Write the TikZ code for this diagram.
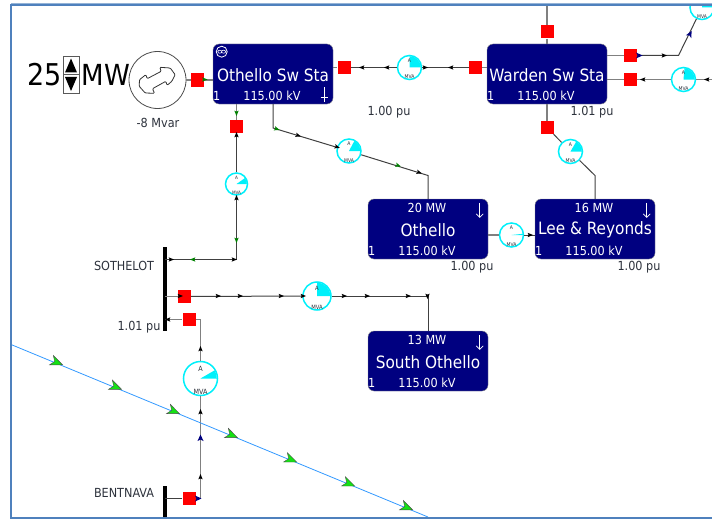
\documentclass[tikz,border=0pt]{standalone}
\usepackage{fontspec}
\setmainfont{DejaVu Sans Condensed}
\usetikzlibrary{arrows.meta}
\definecolor{busblue}{RGB}{0,0,128}
\definecolor{framecol}{RGB}{79,129,189}
\definecolor{linkblue}{RGB}{51,153,255}
\definecolor{labelcol}{RGB}{45,50,60}
\definecolor{metercol}{RGB}{0,240,250}
\definecolor{flowgreen}{RGB}{0,130,0}
\definecolor{tipgreen}{RGB}{20,225,20}
\tikzset{
  busbox/.style={draw=black!45,fill=busblue,rounded corners=6pt,minimum width=120pt,minimum height=60pt,inner sep=0pt},
  bustext/.style={text=white,inner sep=0pt},
  breaker/.style={fill=red,minimum size=13pt,inner sep=0pt},
  gauge/.style={draw=metercol,line width=1.5pt,fill=white,circle,inner sep=0pt},
  wire/.style={line width=1pt,black!75},
  greywire/.style={line width=1.5pt,black!50},
  barline/.style={line width=3.5pt,black},
  plainlabel/.style={text=labelcol,inner sep=0pt,font=\fontsize{12.5}{14}\selectfont},
}
\newcommand{\meter}[5]{
  \pgfmathsetmacro\metersize{#4*.42}
  \node [gauge,minimum size=#4*2pt] (#1) at (#2,#3) {};
  \fill [metercol] (#1.center) --++ (#4*1pt-.7pt,0) arc [start angle=0,end angle=#5,radius=#4*1pt-.7pt] -- cycle;
  \node [text=labelcol,inner sep=0pt,font=\fontsize{\metersize}{6}\selectfont] (#1a) at ([yshift=.58*#4*1pt]#1.center) {A};
  \node [text=labelcol,inner sep=0pt,font=\fontsize{\metersize}{6}\selectfont] (#1m) at ([yshift=.27*#4*1pt]#1.south) {MVA};
}
\newcommand{\busnode}[6]{
  \node [busbox] (#1) at (#2,#3) {};
  \node [bustext,font=\fontsize{17}{18}\selectfont] (#1t) at ([yshift=-31pt]#1.north) {#4};
  \node [bustext,font=\fontsize{12.5}{14}\selectfont] (#1k) at ([yshift=-52.5pt,xshift=-1pt]#1.north) {115.00 kV};
  \node [bustext,font=\fontsize{12.5}{14}\selectfont] (#1o) at ([yshift=-52.5pt,xshift=4pt]#1.north west) {1};
  \node [bustext,font=\fontsize{12.5}{14}\selectfont] (#1w) at ([yshift=-9.5pt,xshift=-1pt]#1.north) {#5};
  #6
}
\newcommand{\loadarrow}[1]{\draw [white,line width=.7pt,-{Straight Barb[length=3.5pt,width=7pt]}] ([shift={(-8.5pt,-4pt)}]#1.north east) --++ (0,15);}
\begin{document}
\begin{tikzpicture}[x=1pt,y=-1pt]
  \useasboundingbox (0,0) rectangle (712,519);
  % buses
  \busnode{othsw}{273}{74}{Othello Sw Sta}{}{}
  \busnode{warden}{547}{74}{Warden Sw Sta}{}{}
  \busnode{othello}{428}{229}{Othello}{20 MW}{\loadarrow{othello}}
  \busnode{leerey}{595}{229}{Lee \& Reyonds}{16 MW}{\loadarrow{leerey}}
  \busnode{southoth}{428}{361}{South Othello}{13 MW}{\loadarrow{southoth}}
  \draw [white,line width=.8pt] (221.7,51.7) circle (5.5);
  \draw [white,line width=.6pt] (219.8,51.7) ellipse (2 and 1.5) (223.6,51.7) ellipse (2 and 1.5);
  \draw [white,line width=.8pt] (324,87) -- (324,102) (320.5,97) -- (327.5,97);
  % bars
  \coordinate (sotheltop) at (165,247);
  \coordinate (sothelbot) at (165,331);
  \coordinate (bentop) at (165,486);
  \coordinate (benbot) at (165,517);
  \draw [barline] (sotheltop) -- (sothelbot);
  \draw [barline] (bentop) -- (benbot);
  % breakers
  \foreach \nm/\x/\y in {brgen/197.5/80,brothe/344/67.5,brward/475.5/67.5,brtop/547/32,brlee/547/127.5,brnea/630.5/55.5,brneb/630.5/79.5,brsouth/236.5/126.5,brsa/184.5/296.5,brsb/189/319.5,brben/189/498.5}
    \node [breaker] (\nm) at (\x,\y) {};
  % meters
  \meter{mlink}{409.5}{67.5}{12}{90}
  \meter{mothe}{349}{151}{12}{62}
  \meter{msoth}{236.5}{184}{11}{35}
  \meter{mlee}{570.5}{151.5}{12}{60}
  \meter{mne}{702}{7.5}{12}{90}
  \meter{mnb}{683.5}{79.5}{12}{85}
  \meter{mtie}{511.5}{235}{12}{6}
  \meter{mso}{317}{296}{14}{90}
  \meter{mben}{200.5}{378.5}{17}{30}
  % generator
  \node [circle,draw=black!70,line width=.8pt,fill=white,minimum size=57pt,inner sep=0pt] (gen) at (157.5,80) {};
  \draw [black!80,fill=white,line width=.8pt,rounded corners=1pt,shift={(gen.center)}]
    (-11.7,-5.3) -- (-10.3,-1.3) -- (3.7,-8.7) -- (2.3,-12.7) -- (12.7,-12) -- (17.7,-5.3) -- (14.3,1.3) -- (9.7,5.3) -- (8.3,1.3) -- (-5,8.7) -- (-3,13.3) -- (-12.3,13) -- (-18.3,6.3) -- (-18,-.3) -- cycle;
  % wires
  \coordinate (othdrop) at (273,128);
  \coordinate (othbend) at (428,175.5);
  \coordinate (leebend) at (595,175.5);
  \coordinate (nebend) at (678.5,55.5);
  \coordinate (soth) at (236.5,259.5);
  \coordinate (sothbar) at (165,259.5);
  \coordinate (sobend) at (428,296);
  \coordinate (benup) at (200.5,319.5);
  \coordinate (bendn) at (200.5,498.5);
  \coordinate (topedge) at (547,5);
  \coordinate (nbedge) at (712,79.5);
  \draw [greywire] (gen) -- (brgen);
  \draw [greywire] (brgen) -- (othsw.west |- brgen);
  \draw [greywire] (othsw.east |- brothe) -- (brothe);
  \draw [wire] (brothe) -- (mlink);
  \draw [wire] (mlink) -- (brward);
  \draw [greywire] (brward) -- (warden.west |- brward);
  \draw [greywire] (topedge) -- (brtop);
  \draw [greywire] (brtop) -- (warden.north);
  \draw [greywire] (warden.south) -- (brlee);
  \draw [wire] (brlee) -- (mlee);
  \draw [wire] (mlee) -- (leebend) -- (leerey.north);
  \draw [greywire] (warden.east |- brnea) -- (brnea);
  \draw [wire] (brnea) -- (nebend) -- (mne);
  \draw [greywire] (warden.east |- brneb) -- (brneb);
  \draw [greywire] (brneb) -- (mnb);
  \draw [greywire] (mnb) -- (nbedge);
  \draw [wire] (othsw.south -| othdrop) -- (othdrop) -- (mothe);
  \draw [wire] (mothe) -- (othbend) -- (othello.north);
  \draw [greywire] (othsw.south -| brsouth) -- (brsouth);
  \draw [wire] (brsouth) -- (msoth);
  \draw [wire] (msoth) -- (soth) -- (sothbar);
  \draw [greywire] (othello.east |- mtie) -- (mtie);
  \draw [wire] (mtie) -- (leerey.west |- mtie);
  \draw [greywire] (sothbar |- brsa) -- (brsa);
  \draw [wire] (brsa) -- (mso);
  \draw [wire] (mso) -- (sobend) -- (southoth.north);
  \draw [greywire] (sothbar |- brsb) -- (brsb);
  \draw [greywire] (brsb) -- (benup) -- (mben);
  \draw [greywire] (mben) -- (bendn);
  \draw [wire] (bendn) -- (brben);
  \draw [wire] (brben) -- (sothbar |- brben);
  % small flow marks
  \foreach \x/\y/\a/\c in {204.5/79.5/0/flowgreen,236.5/113/-90/flowgreen,236.5/135/90/black,236.5/198/90/black,276.7/129/-18/flowgreen,298/135.5/-18/black,337/147/-18/black,362/67.5/180/black,387/67.5/180/black,425/67.5/0/black,451/67.5/180/black,398/165.5/-18/flowgreen,419/172.5/-18/black,664/55.5/0/black,643/79.5/180/black,707/79.5/180/black,530/235/0/black,367/296/0/black,408/296/0/black,427.5/296/-90/black,171/259.5/0/black,193/259.5/180/flowgreen,234/259.5/0/black,236.5/240/-90/flowgreen,168/319.5/180/black,180/296/0/black,218/296/0/black,240/296/0/black,281/296/0/black,303/296/0/black,344/296/0/black,200.5/349/90/black,200.5/412/90/black,200.5/477/90/black}
    \fill [\c,shift={(\x,\y)},rotate=\a] (3,0) -- (-2.4,2.2) -- (-1.4,0) -- (-2.4,-2.2) -- cycle;
  \foreach \x/\y/\a in {639/55.5/0,690/34/62,200.5/438/90,198/498.5/0}
    \fill [busblue,shift={(\x,\y)},rotate=\a] (3.5,0) -- (-3,3) -- (-1.5,0) -- (-3,-3) -- cycle;
  % tie line
  \coordinate (tiea) at (11,344.5);
  \coordinate (tieb) at (428,517);
  \draw [linkblue,line width=.8pt] (tiea) -- (tieb);
  \foreach \x/\y in {57/362.5,116/387,174/411.3,232/435.3,291/459.7,349/483.7,407/507.5}
    \draw [draw=black!70,line width=.4pt,fill=tipgreen,shift={(\x,\y)},rotate=-22.5] (6,0) -- (-6,5) -- (-2.5,0) -- (-6,-5) -- cycle;
  % cover the top edge and draw the frame
  \fill [white] (0,0) rectangle (712,4);
  \draw [framecol!60,line width=1pt] (11,4) -- (712,4);
  \draw [framecol,line width=2pt] (712,5.5) -- (11,5.5) -- (11,517.5) -- (712,517.5);
  % labels
  \node [text=black,inner sep=0pt,font=\fontsize{30}{32}\selectfont] (mwval) at (45,75) {25};
  \node [text=black,inner sep=0pt,font=\fontsize{29}{32}\selectfont] (mwunit) at (106,75) {MW};
  \draw [black!65,line width=.8pt] (63,56) rectangle (79,93) (63,74.5) -- (79,74.5);
  \fill (71,58.5) -- (65,72.5) -- (77,72.5) -- cycle;
  \fill (71,91) -- (65,77) -- (77,77) -- cycle;
  \node [plainlabel] (genq) at (158,123) {-8 Mvar};
  \node [plainlabel] (puoth) at (389,112) {1.00 pu};
  \node [plainlabel] (puward) at (592,112) {1.01 pu};
  \node [plainlabel] (puothello) at (472,267) {1.00 pu};
  \node [plainlabel] (pulee) at (639,267) {1.00 pu};
  \node [plainlabel] (pusoth) at (139,327) {1.01 pu};
  \node [plainlabel] (sothlabel) at (124,266) {SOTHELOT};
  \node [plainlabel] (benlabel) at (124,493) {BENTNAVA};
\end{tikzpicture}
\end{document}
